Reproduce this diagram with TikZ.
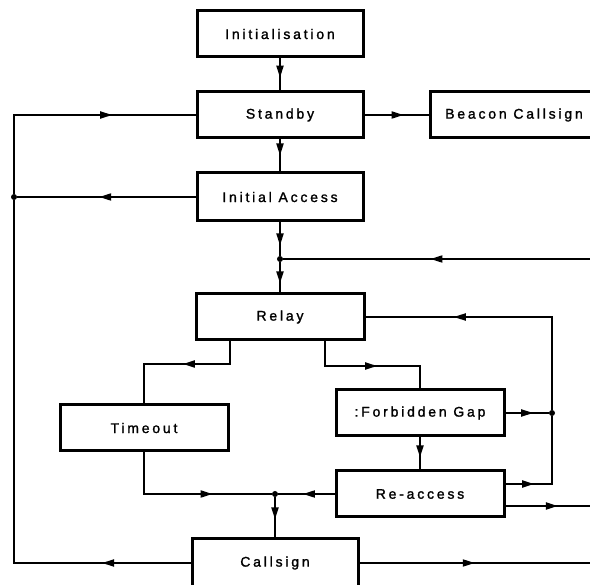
\documentclass[tikz,border=0pt]{standalone}
\usepackage{fontspec}
\newfontfamily\boxfont[LetterSpace=20,FakeBold=1.5]{Liberation Sans}
\usetikzlibrary{arrows.meta,decorations.markings}
\begin{document}
\begin{tikzpicture}[x=1pt,y=-1pt,
  box/.style={draw,line width=3pt,minimum width=166pt,minimum height=46pt,inner sep=0pt,font={\boxfont\fontsize{14}{16}\selectfont}},
  line/.style={line width=2pt},
  arr/.style={line,postaction={decorate},decoration={markings,mark=at position #1 with {\arrow{Triangle[length=12pt,width=7pt]}}}},
  dot/.style={circle,fill,inner sep=0pt,minimum size=6pt}]
\useasboundingbox (0,0) rectangle (590,585);
\clip (0,0) rectangle (590,585);
% states
\node[box] (init) at (280,34) {Initialisation};
\node[box] (standby) at (280,115) {Standby};
\node[box,minimum width=168pt] (beacon) at (514,115) {Beacon Callsign};
\node[box,minimum height=48pt] (initacc) at (280,197) {Initial Access};
\node[box,minimum width=168pt] (relay) at (280,317) {Relay};
\node[box,minimum width=168pt] (timeout) at (144,428) {Timeout};
\node[box,minimum width=168pt] (gap) at (420,413) {:Forbidden Gap};
\node[box,minimum width=168pt] (reacc) at (420,494) {Re-access};
\node[box,minimum height=48pt] (callsign) at (275,563) {Callsign};
% junctions
\node[dot] (j1) at (14,197) {};
\node[dot] (j2) at (280,259) {};
\node[dot] (j3) at (552,413) {};
\node[dot] (j4) at (275,494) {};
% bends and free ends
\coordinate (r1) at (230,364);
\coordinate (r2) at (325,366);
\coordinate (in1) at (590,259);
\coordinate (out1) at (590,506);
\coordinate (out2) at (590,563);
% main column
\draw[arr=0.6] (init) -- (standby);
\draw[arr=0.5] (standby) -- (initacc);
\draw[arr=0.61] (standby.east) -- (standby.east -| beacon.west);
\draw[arr=0.69] (initacc) -- (j2);
\draw[arr=0.7] (j2) -- (relay);
\draw[arr=0.52] (in1) -- (j2);
% back to standby
\draw[arr=0.164] (callsign.west) -- (callsign.west -| j1) -- (j1);
\draw[arr=0.54] (initacc.west) -- (j1);
\draw[arr=0.68] (j1) -- (j1 |- standby.west) -- (standby.west);
% relay branches
\draw[arr=0.47] (relay.south -| r1) -- (r1) -| (timeout.north);
\draw[arr=0.54] (relay.south -| r2) -- (r2) -| (gap.north);
\draw[arr=0.62] (gap) -- (reacc);
\draw[arr=0.64] (gap.east) -- (j3);
\draw[arr=0.25] ([yshift=10pt]reacc.east) -| (j3);
\draw[arr=0.684] (j3) |- (relay.east);
\draw[arr=0.62] ([yshift=-12pt]reacc.east) -- (out1);
% towards callsign
\draw[arr=0.65] (timeout.south) |- (j4);
\draw[arr=0.56] (reacc.west) -- (j4);
\draw[arr=0.55] (j4) -- (callsign);
\draw[arr=0.5] (callsign.east) -- (out2);
\end{tikzpicture}
\end{document}
